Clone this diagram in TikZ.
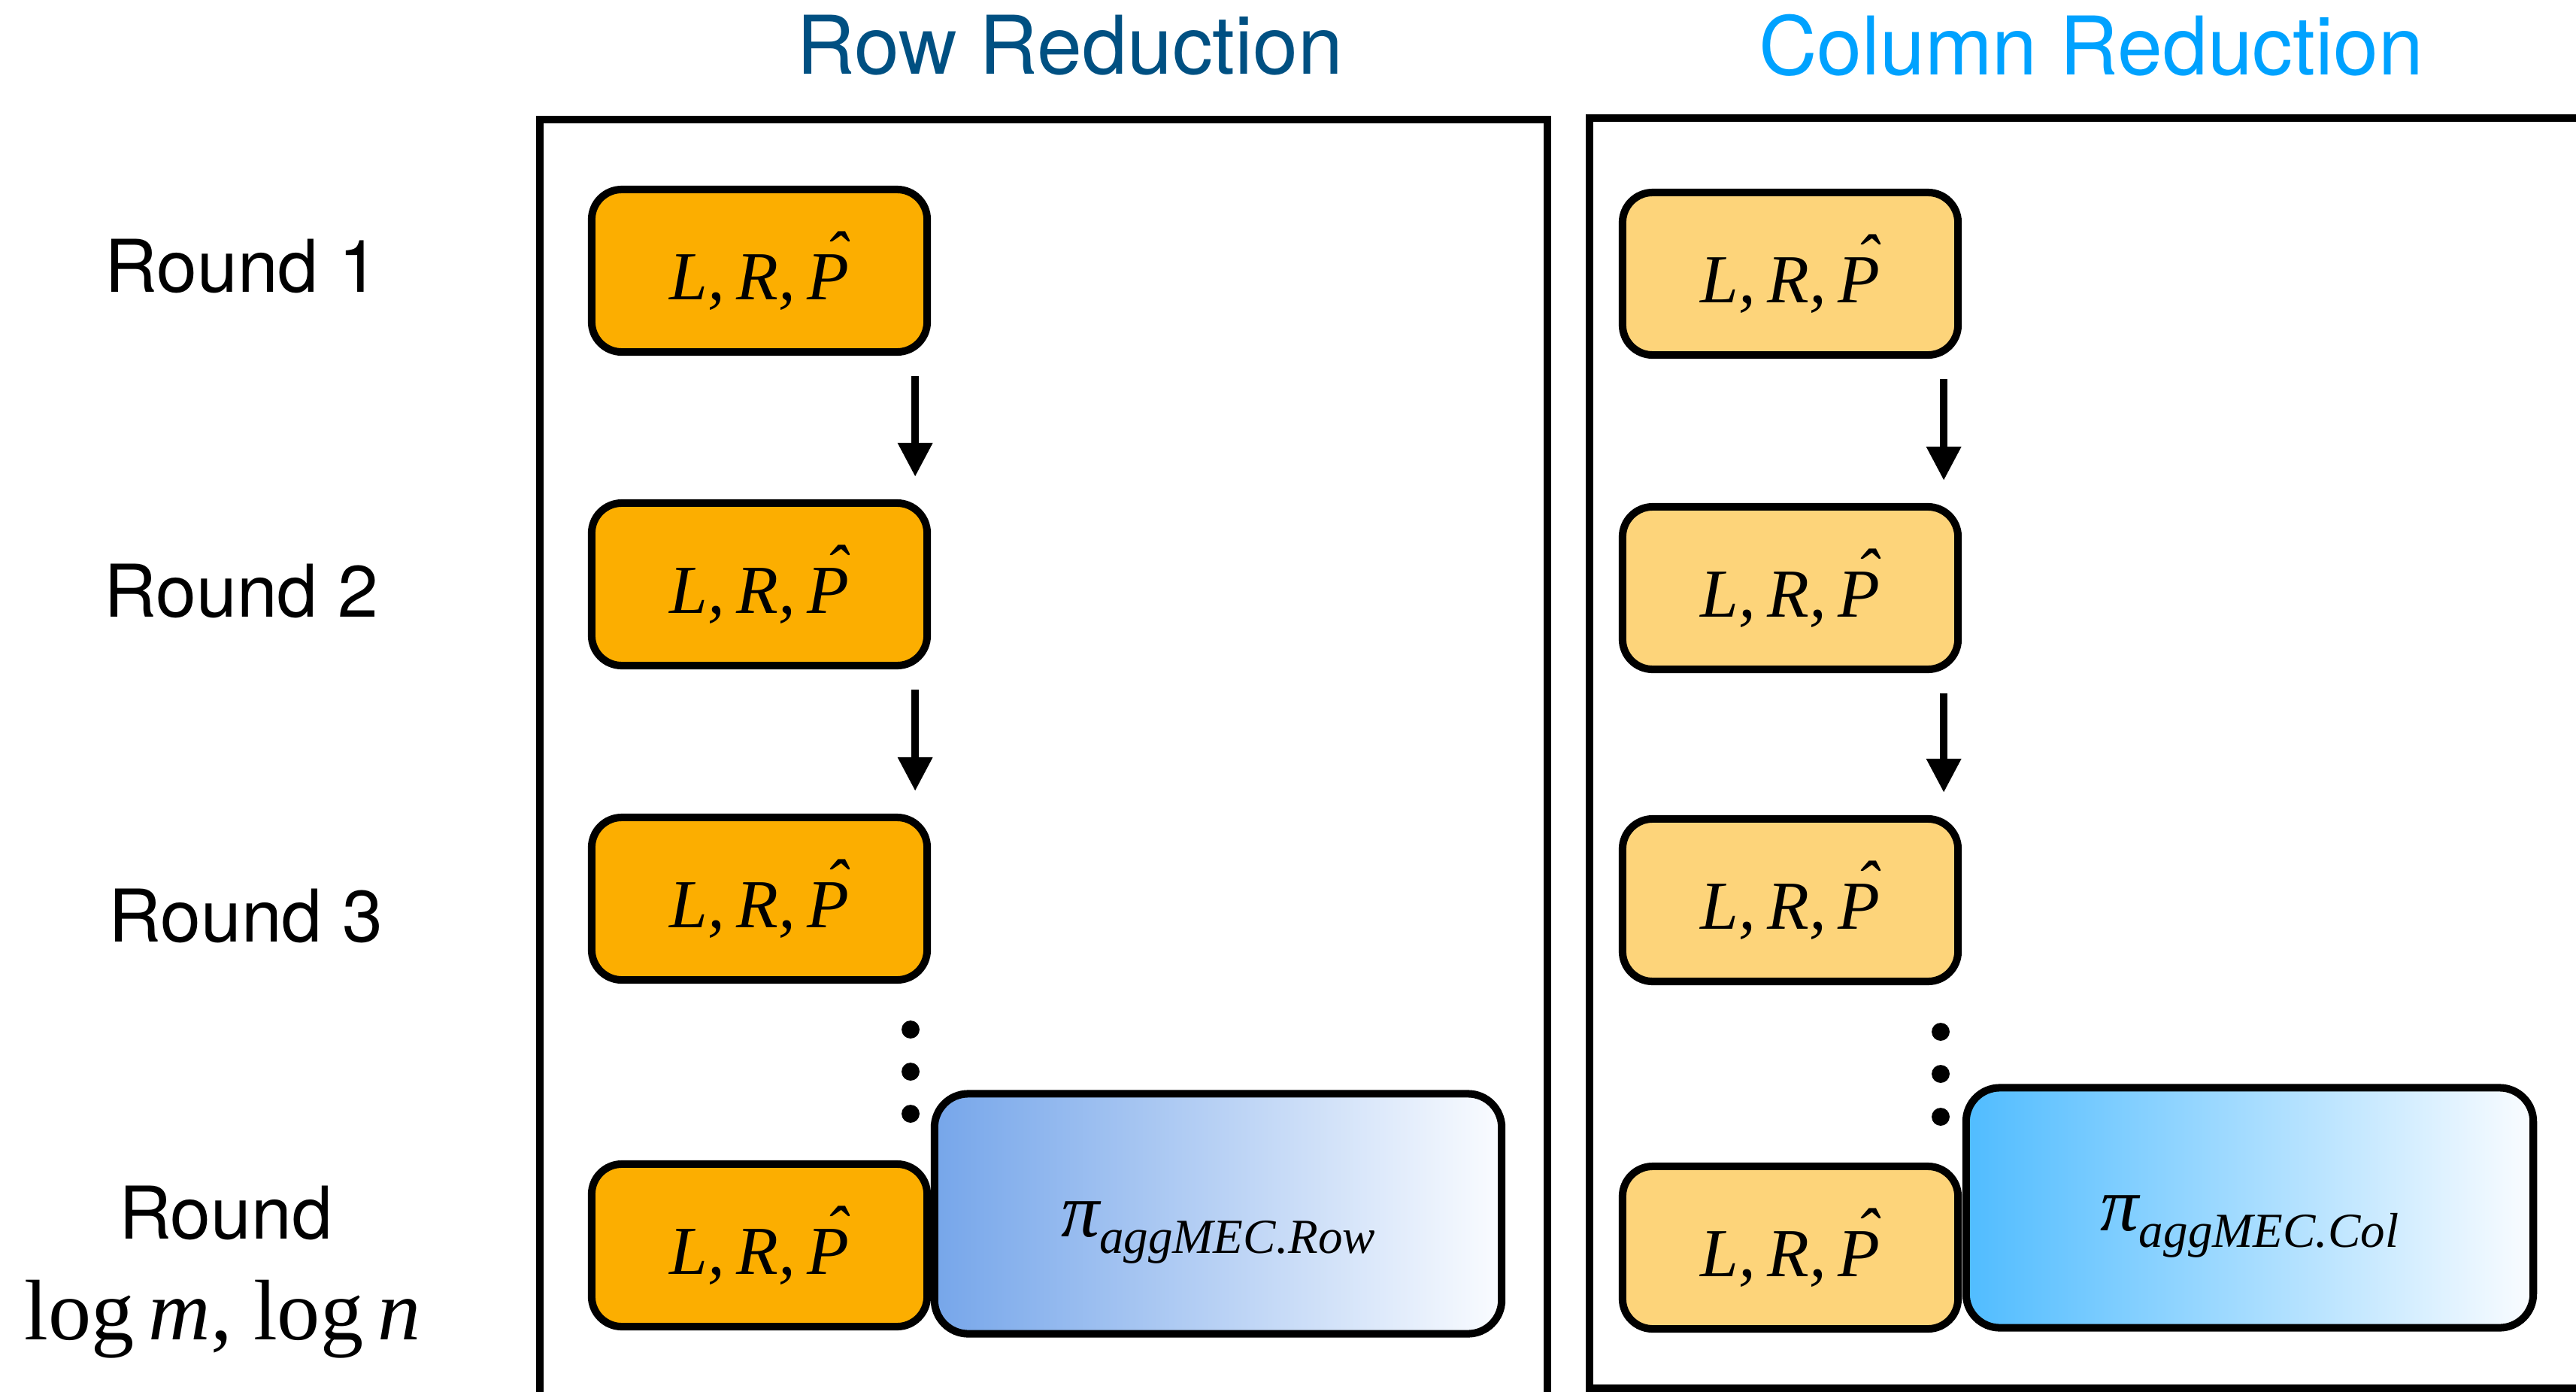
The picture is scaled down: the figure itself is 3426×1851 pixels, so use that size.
\documentclass[tikz,border=0pt]{standalone}
\usepackage{fontspec}
\setmainfont{Liberation Serif}
\setsansfont{TeX Gyre Heros}
\usetikzlibrary{arrows.meta,calc}

\definecolor{rowtitle}{RGB}{0,80,130}
\definecolor{coltitle}{RGB}{0,162,255}
\definecolor{rowstep}{RGB}{252,174,0}
\definecolor{colstep}{RGB}{253,212,122}
\definecolor{rowagg}{RGB}{118,166,234}
\definecolor{colagg}{RGB}{80,188,255}
\definecolor{aggend}{RGB}{250,252,255}

\tikzset{
  frame/.style={draw=black, line width=2.85pt},
  title/.style={anchor=base, font=\sffamily\fontsize{30.6}{36}\selectfont},
  roundlbl/.style={anchor=base, font=\sffamily\fontsize{27.5}{33}\selectfont},
  stepbox/.style={draw=black, line width=2.85pt, rounded corners=11.4pt,
    minimum width=4.46cm, minimum height=2.16cm, inner sep=0pt,
    font=\fontsize{26}{30}\selectfont\itshape},
  rowstepbox/.style={stepbox, fill=rowstep},
  colstepbox/.style={stepbox, fill=colstep},
  aggbox/.style={draw=black, line width=2.85pt, rounded corners=12.8pt,
    minimum width=7.54cm, minimum height=3.19cm, inner sep=0pt},
  agglbl/.style={anchor=base, inner sep=0pt, font=\fontsize{25}{30}\selectfont},
  flow/.style={line width=2.85pt, -{Triangle[length=12.8pt,width=12.5pt]}},
  dot/.style={fill=black},
}
% P with a circumflex set above it
\newcommand{\hatP}{\rlap{\hspace{0.25em}\raisebox{0.29em}{ˆ}}P}
\newcommand{\lrp}{L,\,R,\,\hatP}
\newcommand{\aggpi}[1]{{\fontsize{29}{30}\selectfont\itshape π}\raisebox{-6.3pt}{\fontsize{18.5}{20}\selectfont\itshape #1}}

\begin{document}
\begin{tikzpicture}[x=0.01cm,y=-0.01cm]
\useasboundingbox (0,0) rectangle (3426,1851);
\clip (0,0) rectangle (3426,1851);

% column titles
\node[title, text=rowtitle] (trow) at (1423,98) {Row Reduction};
\node[title, text=coltitle] (tcol) at (2781,99) {Column Reduction};

% frames of the two reductions
\draw[frame] (718,1920) -- (718,159) -- (2058,159) -- (2058,1920);
\draw[frame] (3500,157) -- (2114,157) -- (2114,1846) -- (3500,1846);

% round labels
\node[roundlbl] (lbl1) at (322,388) {Round 1};
\node[roundlbl] (lbl2) at (321,820) {Round 2};
\node[roundlbl] (lbl3) at (327,1252) {Round 3};
\node[roundlbl] (lbl4) at (300,1647) {Round};
\node[anchor=base, font=\fontsize{32.5}{38}\selectfont] (lbl4b) at (296,1781)
  {log\,\textit{m}, log\,\textit{n}};

% row reduction steps
\node[rowstepbox] (r1) at (1010,360) {\lrp};
\node[rowstepbox] (r2) at (1010,777) {\lrp};
\node[rowstepbox] (r3) at (1010,1195) {\lrp};
\node[rowstepbox] (r4) at (1010,1656) {\lrp};
\node[aggbox, left color=rowagg, right color=aggend] (rowaggbox) at (1620,1614) {};
\node[agglbl] (rowagglbl) at ($(rowaggbox.center)+(0,30)$) {\aggpi{aggMEC.Row}};

\draw[flow] ($(r1.south east)+(-21,27)$) -- ($(r2.north east)+(-21,-30)$);
\draw[flow] ($(r2.south east)+(-21,27)$) -- ($(r3.north east)+(-21,-30)$);
\fill[dot] (1211,1369) circle[radius=3.4pt];
\fill[dot] (1211,1425) circle[radius=3.4pt];
\fill[dot] (1211,1481) circle[radius=3.4pt];

% column reduction steps
\node[colstepbox] (c1) at (2381,364) {\lrp};
\node[colstepbox] (c2) at (2381,782) {\lrp};
\node[colstepbox] (c3) at (2381,1197) {\lrp};
\node[colstepbox] (c4) at (2381,1659) {\lrp};
\node[aggbox, left color=colagg, right color=aggend] (colaggbox) at (2992,1606) {};
\node[agglbl] (colagglbl) at ($(colaggbox.center)+(0,30)$) {\aggpi{aggMEC.Col}};

\draw[flow] ($(c1.south east)+(-24,27)$) -- ($(c2.north east)+(-24,-30)$);
\draw[flow] ($(c2.south east)+(-24,27)$) -- ($(c3.north east)+(-24,-30)$);
\fill[dot] (2581,1372) circle[radius=3.4pt];
\fill[dot] (2581,1428) circle[radius=3.4pt];
\fill[dot] (2581,1485) circle[radius=3.4pt];
\end{tikzpicture}
\end{document}
